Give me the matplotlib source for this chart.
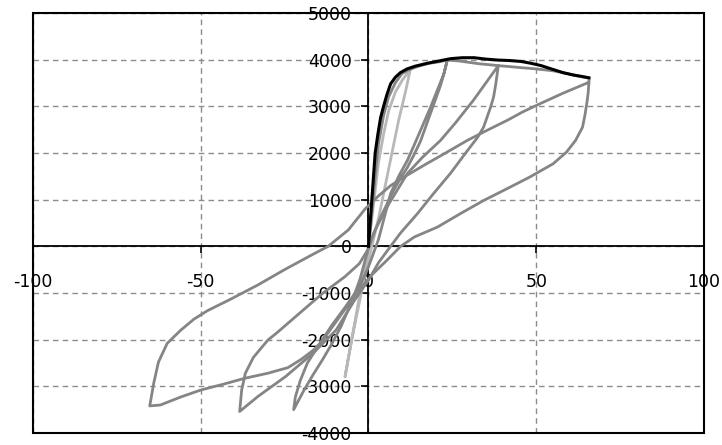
import matplotlib
matplotlib.use("Agg")
import matplotlib.pyplot as plt
from matplotlib.patches import Rectangle

# ---------------- data ----------------
x_ticks = [-100, -50, 0, 50, 100]
y_ticks = [-4000, -3000, -2000, -1000, 0, 1000, 2000, 3000, 4000, 5000]

# monotonic / envelope curve (black)
env_x = [0, 0.5, 1.0, 1.5, 2.0, 2.8, 3.6, 4.5, 5.5, 6.6, 8, 9.5, 11.5, 14, 17.5,
         21, 24.5, 28, 31.5, 35, 38.5, 42, 45.5, 48.5, 51.5, 54.5, 58, 61, 63.5, 65.7]
env_y = [0, 500, 1000, 1500, 2000, 2400, 2750, 3000, 3250, 3480, 3620, 3720, 3800,
         3860, 3920, 3970, 4020, 4040, 4040, 4010, 3990, 3980, 3960, 3920, 3870,
         3800, 3720, 3670, 3640, 3610]

# smallest cycle (light gray)
c0_x = [0, 1, 2, 3, 4.5, 6, 8, 10, 12.5, 11, 9, 7, 5, 3, 1, -1, -3, -5, -7,
        -5.5, -4, -2.5, -1, 0]
c0_y = [0, 600, 1200, 1800, 2400, 2900, 3300, 3550, 3800, 3300, 2700, 2000, 1300,
        600, 0, -600, -1300, -2000, -2800, -2200, -1600, -1000, -400, 0]

# cycle to ~24 (gray)
c1_x = [0, 1, 2, 3, 4.5, 6, 8, 10, 12, 15, 18, 21, 23.5,
        22.5, 21.5, 20, 18.5, 17, 15.5, 13.5, 11.6, 9.5, 7.5, 5.5, 3.6, 2, 0.6,
        -1, -2.5, -4, -6, -8.2, -11, -13.7, -16.5, -19.2, -22.3,
        -21.8, -20.3, -18.2, -15.1, -11, -6.9, -2.7, 0, 3, 6.6, 9, 11.6, 14, 16.4,
        18.5, 20.5, 22.5, 23.5]
c1_y = [0, 700, 1500, 2200, 2800, 3200, 3500, 3700, 3780, 3860, 3920, 3950, 3990,
        3700, 3450, 3150, 2850, 2550, 2250, 1950, 1690, 1450, 1200, 900, 620, 350, 130,
        -300, -700, -1000, -1350, -1720, -2100, -2430, -2750, -3080, -3500,
        -3230, -2870, -2500, -2150, -1700, -1300, -870, -440, 150, 1130, 1500, 1840,
        2230, 2630, 2980, 3340, 3700, 3990]

# cycle to ~39 (gray)
c2_x = [23.5, 27, 30, 33, 36, 38.7,
        38, 37.3, 36.4, 34.3, 32.5, 29.5, 24.4, 19.4, 14.6, 9.5, 6.6, 3, 0,
        -4.1, -9.6, -16.5, -24.7, -33, -38.4,
        -37.8, -36.7, -34.3, -30, -27.4, -20, -13.7, -7, -2.7, 0, 2, 6, 11.6, 16,
        21.5, 26, 31.3, 35, 38.7]
c2_y = [3990, 3970, 3940, 3910, 3890, 3870,
        3500, 3200, 2980, 2550, 2330, 2050, 1560, 1130, 700, 280, 0, -350, -726,
        -1150, -1790, -2290, -2790, -3220, -3540,
        -3080, -2720, -2380, -2010, -1860, -1400, -1010, -650, -370, -50, 350, 900,
        1560, 1900, 2270, 2650, 3130, 3500, 3870]

# largest cycle to ~66 (gray)
c3_x = [38.7, 42, 45, 50, 55, 60, 63, 65.8,
        65.5, 65.2, 64.5, 63.8, 61.7, 59, 55, 48, 41.2, 34.3, 27.4, 20.6, 13.7,
        9.6, 5.5, 1.4, -3, -7, -11, -14, -16.5, -20, -24, -30, -37, -43, -50,
        -56, -62, -65.2,
        -64, -62.6, -60, -56, -52, -48, -41, -33, -25, -16.5, -12, -6,
        -1, 3, 6.6, 11, 16.4, 23, 29.5, 35.5, 41.4, 46, 51.3, 58, 65.6]
c3_y = [3870, 3850, 3830, 3800, 3760, 3690, 3640, 3600,
        3300, 3120, 2800, 2550, 2265, 2015, 1766, 1480, 1230, 980, 700, 413, 200,
        0, -300, -584, -950, -1350, -1750, -2050, -2230, -2420, -2600, -2720,
        -2830, -2950, -3080, -3230, -3400, -3420,
        -2930, -2480, -2080, -1800, -1560, -1380, -1130, -830, -500, -170,
        0, 350, 800, 1080, 1300, 1500, 1730, 2000, 2270, 2490, 2700, 2880, 3060,
        3280, 3510]

# ---------------- figure ----------------
fig = plt.figure(figsize=(7.22, 4.45), dpi=100)
ax = fig.add_axes([0.0457, 0.027, 0.975 - 0.0457, 0.971 - 0.027])

dark = "#858585"
light = "#b8b8b8"
lw = 2.0

ax.plot(c0_x, c0_y, color=light, lw=lw, zorder=3)
ax.plot(c1_x, c1_y, color=dark, lw=lw, zorder=3)
ax.plot(c2_x, c2_y, color=dark, lw=lw, zorder=3)
ax.plot(c3_x, c3_y, color=dark, lw=lw, zorder=3)
ax.plot(env_x, env_y, color="black", lw=2.2, zorder=4)

ax.set_xlim(-100, 100)
ax.set_ylim(-4000, 5000)
ax.set_xticks(x_ticks)
ax.set_yticks(y_ticks)
ax.set_xticklabels([str(v) for v in x_ticks])
ax.set_yticklabels([str(v) for v in y_ticks])

ax.grid(True, color="#8c8c8c", linestyle=(0, (4, 3)), linewidth=1.0, zorder=1)
ax.set_axisbelow(True)

ax.spines["left"].set_position(("data", 0))
ax.spines["bottom"].set_position(("data", 0))
for s in ax.spines.values():
    s.set_color("black")
    s.set_linewidth(1.3)

ax.add_patch(Rectangle((0, 0), 1, 1, transform=ax.transAxes, fill=False,
                       edgecolor="black", linewidth=1.5, clip_on=False, zorder=5))

ax.tick_params(axis="x", direction="out", length=5, width=1.2, pad=14,
               labelsize=12.5, colors="black")
ax.tick_params(axis="y", direction="out", length=5, width=1.2, pad=7,
               labelsize=12.5, colors="black")

fig.savefig("out.png", dpi=100)
